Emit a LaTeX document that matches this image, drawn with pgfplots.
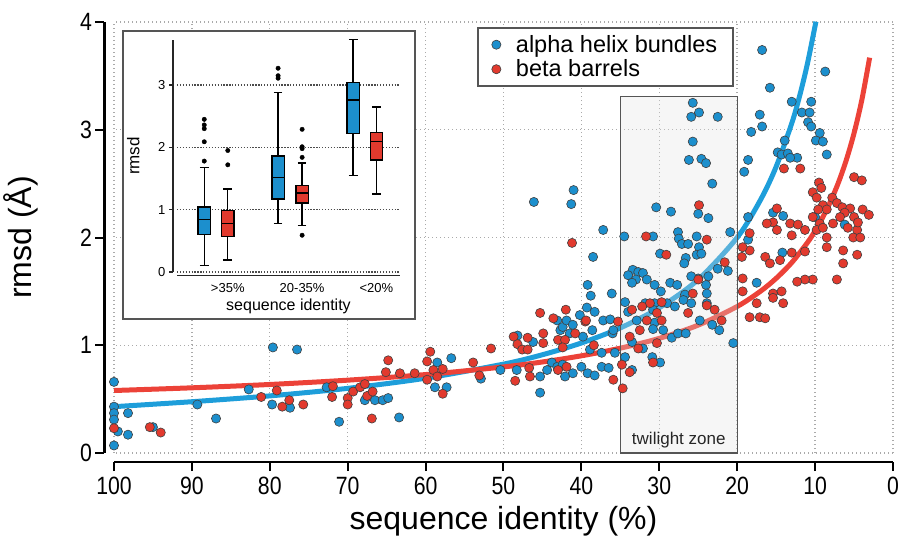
\documentclass[border=0pt]{standalone}
\usepackage{fontspec}
\setmainfont{Liberation Sans}
\newfontfamily\condfont[FakeStretch=0.85]{Liberation Sans}
\usepackage{pgfplots}
\usepackage{pgfplotstable}
\pgfplotsset{compat=1.18}
\usepgfplotslibrary{statistics}
\definecolor{bluept}{RGB}{28,143,205}
\definecolor{redpt}{RGB}{226,58,46}
\definecolor{bluefit}{RGB}{30,158,218}
\definecolor{redfit}{RGB}{236,66,56}
\definecolor{gridc}{RGB}{170,170,170}
\definecolor{framec}{RGB}{85,85,85}

\pgfplotstableread{
x y
100 0.66
100 0.43
100 0.37
100 0.31
99.5 0.20
98.2 0.37
98.2 0.17
100 0.07
95 0.24
89.3 0.45
86.9 0.32
79.6 0.98
76.5 0.96
82.7 0.59
79.7 0.45
77.4 0.42
72.7 0.61
71.1 0.29
67.8 0.49
66.5 0.49
65.5 0.49
64.8 0.51
63.4 0.33
58.5 0.84
58.8 0.61
57.3 0.61
56.7 0.88
52.9 0.69
50.4 0.77
48.2 1.09
46.2 1.03
48.3 0.77
45.3 0.56
45.3 0.71
44.4 0.77
43.1 1.23
42.7 1.14
42.4 1.17
41.9 1.23
41.5 1.11
41.1 1.19
40.2 1.28
43.8 0.84
43.1 0.80
42.4 0.82
41.1 0.74
40 0.80
39.2 0.74
38.3 0.72
37.4 0.80
36.5 0.79
42.1 0.71
38.9 0.96
37.4 0.93
35.7 0.93
36 1.11
38.6 1.14
39.8 1.08
38.5 1.82
39.2 1.56
38.8 1.46
36.1 1.48
39.3 1.35
38.3 1.31
37.2 1.23
36.3 1.24
35.9 1.14
37.2 2.07
41.0 2.44
41.3 2.31
46.1 2.33
25.7 3.25
24.9 3.16
25.9 3.12
22.5 3.12
25.7 2.89
26.2 2.72
24.6 2.73
24 2.69
23.2 2.50
30.4 2.28
28.5 2.24
25 2.22
23.7 2.18
20.9 2.05
34.5 2.01
30.8 2.01
27.6 2.05
27.5 1.99
27.1 1.94
26.3 1.94
25.2 2.01
24.9 1.91
25.2 1.84
24.6 1.85
29.9 1.85
26.6 1.81
26.8 1.76
22.5 1.71
21.2 1.69
33.4 1.70
32.7 1.68
34 1.65
32.1 1.67
33 1.61
31.6 1.61
33.5 1.58
30.6 1.56
28.6 1.58
27.7 1.56
25 1.62
23.7 1.64
25.9 1.64
29.8 1.50
26.7 1.47
34.4 1.40
31.8 1.39
30.6 1.39
29 1.39
28 1.36
26.9 1.42
25.9 1.39
24 1.56
23.9 1.48
23.9 1.39
34 1.31
32.9 1.23
30.8 1.33
30.6 1.21
30.8 1.15
29.5 1.14
28.4 1.07
27.6 1.11
26.6 1.11
24.8 1.23
23.2 1.19
22.3 1.14
33.5 1.03
32.1 0.97
30.9 0.89
29.9 0.84
34.4 0.89
33.5 0.77
20.5 1.02
18.6 2.72
19.1 2.61
18.2 2.98
17.1 3.14
16.8 3.03
13 3.26
10.5 3.26
11.7 3.16
10.7 3.16
10.9 3.07
10.5 3.03
9.4 2.97
9.9 2.90
9 2.89
8.5 2.77
13.9 2.90
14.8 2.79
14.3 2.77
13.5 2.78
12.3 2.74
13.2 2.74
18.6 2.19
15.4 2.23
14.1 2.20
14.2 1.86
17.5 1.58
18.6 1.98
6.2 2.12
10 2.19
16.8 3.74
8.7 3.54
15.8 3.39
}\bluedata

\pgfplotstableread{
x y
100 0.23
95.4 0.24
94 0.19
81.1 0.52
79.1 0.58
78.4 0.43
77.5 0.49
75.7 0.45
71.9 0.62
72 0.52
70 0.51
70 0.45
69.3 0.57
68.4 0.61
67.8 0.64
67.5 0.53
66.8 0.57
66.9 0.32
64.8 0.86
65.1 0.75
63.3 0.74
61.4 0.74
59.8 0.85
59.4 0.94
59.8 0.68
59 0.77
58.5 0.71
57.8 0.55
57.8 0.78
53.9 0.84
53.1 0.72
51.6 0.97
48.7 1.08
48.2 1.01
47.6 0.96
46.9 1.07
46.9 0.96
48.5 0.67
46.7 0.79
46.6 0.71
45.3 1.30
44.9 1.11
44.9 1.02
43.6 1.25
43 1.05
42.1 1.05
42.4 0.98
42 1.33
39.5 1.22
40.8 1.11
43 0.77
41.9 0.80
38.4 1.00
41.2 1.95
39.4 1.23
35.3 1.22
35.9 0.68
24.9 2.30
23.9 1.98
29.1 1.84
31.7 2.01
21.6 1.77
25 1.61
25.7 1.48
31.2 1.39
29.7 1.40
32.2 1.36
33.5 1.33
30.3 1.30
29.7 1.23
31.6 1.23
23.9 1.37
22.9 1.33
22 1.23
26.3 1.30
32.5 1.14
33.8 1.08
32.7 0.97
30.3 1.02
30.8 0.84
34.8 0.82
33.8 0.75
34.7 0.60
14 2.64
11.9 2.64
5 2.56
4 2.53
9.5 2.51
9.2 2.46
10.3 2.42
9.8 2.37
7.8 2.37
7.2 2.32
9 2.30
6.5 2.28
5.5 2.27
5 2.19
3.9 2.26
3.1 2.21
6.2 2.23
6.8 2.19
7.7 2.13
8.5 2.26
9.6 2.26
10.3 2.19
9.4 2.13
9.8 2.07
9 2.09
8.5 2.00
5.8 2.09
4.6 2.07
5.1 2.00
4.2 2.00
4.5 2.14
14.9 2.27
15.4 2.14
13.2 2.13
12.2 2.12
13 2.02
11.3 2.07
16.2 2.13
14.9 2.07
18.4 2.04
18.4 1.88
19.4 1.82
19.3 1.91
16.4 1.82
15.8 1.76
14.5 1.79
13 1.86
11.3 1.87
8.5 1.91
6.4 1.88
4.6 1.84
6.4 1.76
7.2 1.61
10.3 1.61
11.3 1.61
12.3 1.59
19.3 1.62
19.3 1.50
17.5 1.39
15.4 1.48
15.4 1.44
14.1 1.39
14.3 1.50
18.4 1.26
17.1 1.26
16.4 1.25
}\reddata

\begin{document}
\begin{tikzpicture}
\begin{axis}[
  name=main,
  at={(0,0)}, anchor=south west,
  scale only axis, width=779pt, height=431pt,
  x dir=reverse, xmin=0, xmax=100, ymin=0, ymax=4,
  xtick={0,10,...,100}, ytick={0,1,2,3,4},
  axis x line*=bottom, axis y line*=left,
  axis x line shift=9pt, axis y line shift=9.5pt,
  axis line style={line width=2.2pt, black, -},
  tick style={line width=2pt, black},
  major tick length=9pt,
  tick align=outside,
  grid=major,
  grid style={gridc, line width=1.4pt, dash pattern=on 1.4pt off 2.6pt},
  clip=false,
  /pgf/number format/assume math mode=true,
  ticklabel style={font=\fontsize{25}{25}\condfont},
  xticklabel style={yshift=-3pt},
  xlabel={sequence identity (\%)},
  ylabel={rmsd (Å)},
  every axis x label/.style={at={(axis description cs:0.5,0)}, anchor=north, yshift=-50pt, font=\fontsize{32}{32}\selectfont},
  every axis y label/.style={at={(axis description cs:0,0.5)}, xshift=-72pt, rotate=90, anchor=south, font=\fontsize{32}{32}\selectfont},
  legend style={at={(0.466,0.988)}, anchor=north west, draw=framec, line width=1.5pt,
    font=\fontsize{23.5}{27}\selectfont, inner xsep=14pt, inner ysep=5.5pt,
    row sep=2pt, /tikz/every odd column/.append style={column sep=13pt}},
  legend image post style={line width=0.5pt},
  legend cell align=left,
]
\addplot[only marks, mark=*, mark size=4.6pt, mark options={fill=bluept, draw=black!75, line width=0.6pt}] table {\bluedata};
\addlegendentry{alpha helix bundles}
\addplot[only marks, mark=*, mark size=4.6pt, mark options={fill=redpt, draw=black!75, line width=0.6pt}] table {\reddata};
\addlegendentry{beta barrels}
\addplot[forget plot, bluefit, line width=5pt, smooth] coordinates {
(100,0.43) (90,0.476) (80,0.53) (70,0.60) (60,0.694) (50,0.825) (45,0.912) (40,1.021) (35,1.161) (30,1.348) (25,1.61) (20,2.00) (17,2.35) (15,2.657) (13,3.059) (12,3.31) (11,3.608) (10,3.965) (9.9,4.0)};
\addplot[forget plot, redfit, line width=5pt, smooth] coordinates {
(100,0.58) (90,0.605) (80,0.636) (70,0.676) (60,0.728) (50,0.799) (45,0.845) (40,0.902) (35,0.973) (30,1.064) (25,1.187) (20,1.36) (17,1.502) (15,1.621) (13,1.767) (11,1.951) (10,2.062) (9,2.19) (8,2.338) (7,2.511) (6,2.718) (5,2.968) (4,3.277) (3,3.669)};
\addplot[forget plot, draw=framec, line width=1.3pt, fill=black!12, fill opacity=0.3] coordinates {(35,0) (35,3.31) (20,3.31) (20,0) (35,0)};
\node[font=\fontsize{17}{17}\selectfont, text=black!85, anchor=base] at (axis cs:27.5,0.08) {twilight zone};
\end{axis}

\draw[framec, line width=1.8pt, fill=white] ([shift={(9pt,134pt)}]main.south west) rectangle ([shift={(301pt,422pt)}]main.south west);

\begin{axis}[
  at={(main.south west)}, anchor=south west, xshift=63pt, yshift=181pt,
  scale only axis, width=223pt, height=231.8pt,
  xmin=-0.05, xmax=8.95, ymin=0, ymax=3.72,
  axis x line*=bottom, axis y line*=left,
  axis x line shift=3.7pt, axis y line shift=4pt,
  axis line style={line width=1.5pt, black!85, -},
  xtick={2,5,8}, xticklabels={{>35\%},{20-35\%},{<20\%}},
  ytick={0,1,2,3},
  x tick style={draw=none},
  y tick style={line width=1.3pt, black!85},
  major tick length=4pt, tick align=outside,
  ymajorgrids, grid style={black!70, line width=1.3pt, dash pattern=on 1.3pt off 1.6pt},
  /pgf/number format/assume math mode=true,
  ticklabel style={font=\fontsize{13}{13}\selectfont},
  xlabel={sequence identity}, ylabel={rmsd},
  every axis x label/.style={at={(axis description cs:0.5,0)}, anchor=north, yshift=-23pt, font=\fontsize{16}{16}\selectfont},
  every axis y label/.style={at={(axis description cs:0,0.5)}, xshift=-34pt, rotate=90, anchor=south, font=\fontsize{17}{17}\selectfont},
  boxplot/draw direction=y,
  clip=false,
]
\addplot[fill=bluept, draw=black, line width=1.4pt, boxplot prepared={lower whisker=0.10, lower quartile=0.60, median=0.84, upper quartile=1.04, upper whisker=1.68, draw position=1.05, box extend=0.5, whisker extend=0.35}] coordinates {};
\addplot[fill=redpt, draw=black, line width=1.4pt, boxplot prepared={lower whisker=0.19, lower quartile=0.57, median=0.78, upper quartile=0.99, upper whisker=1.33, draw position=2, box extend=0.5, whisker extend=0.35}] coordinates {};
\addplot[fill=bluept, draw=black, line width=1.4pt, boxplot prepared={lower whisker=0.78, lower quartile=1.17, median=1.52, upper quartile=1.86, upper whisker=2.88, draw position=4.03, box extend=0.5, whisker extend=0.35}] coordinates {};
\addplot[fill=redpt, draw=black, line width=1.4pt, boxplot prepared={lower whisker=0.75, lower quartile=1.11, median=1.27, upper quartile=1.39, upper whisker=1.75, draw position=5, box extend=0.5, whisker extend=0.35}] coordinates {};
\addplot[fill=bluept, draw=black, line width=1.4pt, boxplot prepared={lower whisker=1.55, lower quartile=2.22, median=2.76, upper quartile=3.04, upper whisker=3.73, draw position=7.06, box extend=0.5, whisker extend=0.35}] coordinates {};
\addplot[fill=redpt, draw=black, line width=1.4pt, boxplot prepared={lower whisker=1.25, lower quartile=1.80, median=2.09, upper quartile=2.24, upper whisker=2.65, draw position=8, box extend=0.5, whisker extend=0.35}] coordinates {};
\addplot[only marks, mark=*, mark size=2.2pt, black] coordinates {
(1.05,1.78) (1.05,2.09) (1.05,2.30) (1.05,2.36) (1.05,2.45)
(2,1.72) (2,1.95)
(4.03,3.11) (4.03,3.15) (4.03,3.27)
(5,1.84) (5,1.98) (5,2.01) (5,2.29) (5,0.59)};
\end{axis}
\pgfresetboundingbox
\path ([shift={(-114pt,-89pt)}]main.south west) rectangle ([shift={(785pt,453pt)}]main.south west);
\end{tikzpicture}
\end{document}
